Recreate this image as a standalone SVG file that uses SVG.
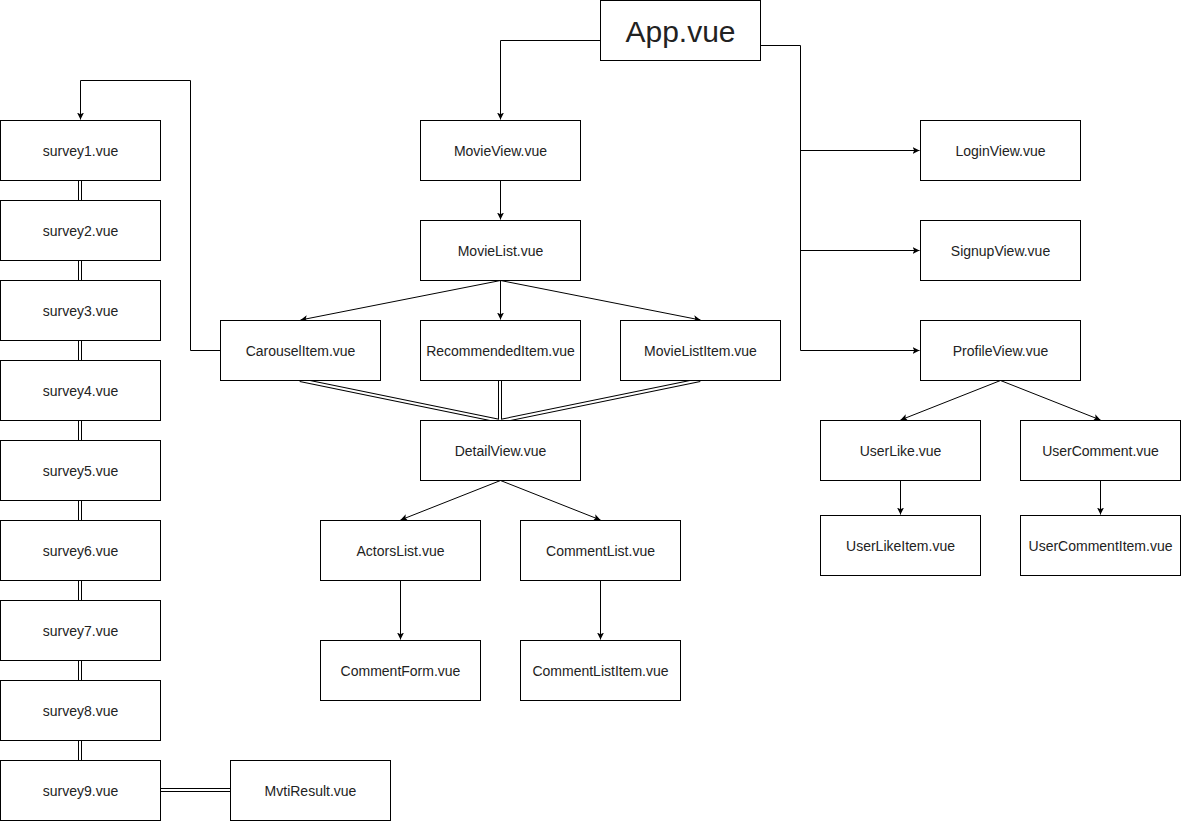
<svg xmlns="http://www.w3.org/2000/svg" width="1181" height="821" viewBox="0 0 1181 821">
  <style>
    .box rect { fill: #ffffff; stroke: #000000; stroke-width: 1; }
    .box text { font-family: "Liberation Sans", Arial, sans-serif; font-size: 14px; fill: #222222; text-anchor: middle; dominant-baseline: central; }
    .edge { fill: none; stroke: #000000; stroke-width: 1; }
    .dbl-outer { fill: none; stroke: #000000; stroke-width: 4; }
    .dbl-inner { fill: none; stroke: #ffffff; stroke-width: 2; }
  </style>
  <defs>
    <marker id="arrow" viewBox="0 0 10 10" refX="10" refY="5" markerWidth="7" markerHeight="7" markerUnits="userSpaceOnUse" orient="auto">
      <path d="M0,0 L10,5 L0,10 L2.5,5 Z" fill="#000000"/>
    </marker>
  </defs>
  <rect width="1181" height="821" fill="#ffffff"/>

  <g id="connectors">
    <!-- plain arrows -->
    <path class="edge" d="M600.5,40.5 H500.5 V119.5" marker-end="url(#arrow)"/>
    <path class="edge" d="M760.5,45.5 H800.5 V350.5 H919.5" marker-end="url(#arrow)"/>
    <path class="edge" d="M800.5,150.5 H919.5" marker-end="url(#arrow)"/>
    <path class="edge" d="M800.5,250.5 H919.5" marker-end="url(#arrow)"/>
    <path class="edge" d="M500.5,180.5 V219.5" marker-end="url(#arrow)"/>
    <path class="edge" d="M500.5,280.5 L300.5,320" marker-end="url(#arrow)"/>
    <path class="edge" d="M500.5,280.5 V319.5" marker-end="url(#arrow)"/>
    <path class="edge" d="M500.5,280.5 L700.5,320" marker-end="url(#arrow)"/>
    <path class="edge" d="M220.5,350.5 H190.5 V80.5 H80.5 V119.5" marker-end="url(#arrow)"/>
    <path class="edge" d="M500.5,480.5 L400.5,520" marker-end="url(#arrow)"/>
    <path class="edge" d="M500.5,480.5 L600.5,520" marker-end="url(#arrow)"/>
    <path class="edge" d="M400.5,580.5 V639.5" marker-end="url(#arrow)"/>
    <path class="edge" d="M600.5,580.5 V639.5" marker-end="url(#arrow)"/>
    <path class="edge" d="M1000.5,380.5 L900.5,420" marker-end="url(#arrow)"/>
    <path class="edge" d="M1000.5,380.5 L1100.5,420" marker-end="url(#arrow)"/>
    <path class="edge" d="M900.5,480.5 V514.5" marker-end="url(#arrow)"/>
    <path class="edge" d="M1100.5,480.5 V514.5" marker-end="url(#arrow)"/>

    <!-- double links -->
    <g>
      <path class="dbl-outer" d="M300,380 L500,421 M500,380 V421 M700,380 L500,421"/>
      <path class="dbl-outer" d="M80,180 V200 M80,260 V280 M80,340 V360 M80,420 V440 M80,500 V520 M80,580 V600 M80,660 V680 M80,740 V760 M160,790 H230"/>
      <path class="dbl-inner" d="M300,380 L500,421 M500,380 V421 M700,380 L500,421"/>
      <path class="dbl-inner" d="M80,180 V200 M80,260 V280 M80,340 V360 M80,420 V440 M80,500 V520 M80,580 V600 M80,660 V680 M80,740 V760 M160,790 H230"/>
    </g>
  </g>

  <g id="app" class="box"><rect x="600.5" y="0.5" width="160" height="60"/><text x="680.5" y="31" style="font-size:30px">App.vue</text></g>

  <g id="survey1" class="box"><rect x="0.5" y="120.5" width="160" height="60"/><text x="80.5" y="150.5">survey1.vue</text></g>
  <g id="survey2" class="box"><rect x="0.5" y="200.5" width="160" height="60"/><text x="80.5" y="230.5">survey2.vue</text></g>
  <g id="survey3" class="box"><rect x="0.5" y="280.5" width="160" height="60"/><text x="80.5" y="310.5">survey3.vue</text></g>
  <g id="survey4" class="box"><rect x="0.5" y="360.5" width="160" height="60"/><text x="80.5" y="390.5">survey4.vue</text></g>
  <g id="survey5" class="box"><rect x="0.5" y="440.5" width="160" height="60"/><text x="80.5" y="470.5">survey5.vue</text></g>
  <g id="survey6" class="box"><rect x="0.5" y="520.5" width="160" height="60"/><text x="80.5" y="550.5">survey6.vue</text></g>
  <g id="survey7" class="box"><rect x="0.5" y="600.5" width="160" height="60"/><text x="80.5" y="630.5">survey7.vue</text></g>
  <g id="survey8" class="box"><rect x="0.5" y="680.5" width="160" height="60"/><text x="80.5" y="710.5">survey8.vue</text></g>
  <g id="survey9" class="box"><rect x="0.5" y="760.5" width="160" height="60"/><text x="80.5" y="790.5">survey9.vue</text></g>
  <g id="mvti-result" class="box"><rect x="230.5" y="760.5" width="160" height="60"/><text x="310.5" y="790.5">MvtiResult.vue</text></g>

  <g id="movie-view" class="box"><rect x="420.5" y="120.5" width="160" height="60"/><text x="500.5" y="150.5">MovieView.vue</text></g>
  <g id="movie-list" class="box"><rect x="420.5" y="220.5" width="160" height="60"/><text x="500.5" y="250.5">MovieList.vue</text></g>
  <g id="carousel-item" class="box"><rect x="220.5" y="320.5" width="160" height="60"/><text x="300.5" y="350.5">CarouselItem.vue</text></g>
  <g id="recommended-item" class="box"><rect x="420.5" y="320.5" width="160" height="60"/><text x="500.5" y="350.5">RecommendedItem.vue</text></g>
  <g id="movie-list-item" class="box"><rect x="620.5" y="320.5" width="160" height="60"/><text x="700.5" y="350.5">MovieListItem.vue</text></g>
  <g id="detail-view" class="box"><rect x="420.5" y="420.5" width="160" height="60"/><text x="500.5" y="450.5">DetailView.vue</text></g>
  <g id="actors-list" class="box"><rect x="320.5" y="520.5" width="160" height="60"/><text x="400.5" y="550.5">ActorsList.vue</text></g>
  <g id="comment-list" class="box"><rect x="520.5" y="520.5" width="160" height="60"/><text x="600.5" y="550.5">CommentList.vue</text></g>
  <g id="comment-form" class="box"><rect x="320.5" y="640.5" width="160" height="60"/><text x="400.5" y="670.5">CommentForm.vue</text></g>
  <g id="comment-list-item" class="box"><rect x="520.5" y="640.5" width="160" height="60"/><text x="600.5" y="670.5">CommentListItem.vue</text></g>

  <g id="login-view" class="box"><rect x="920.5" y="120.5" width="160" height="60"/><text x="1000.5" y="150.5">LoginView.vue</text></g>
  <g id="signup-view" class="box"><rect x="920.5" y="220.5" width="160" height="60"/><text x="1000.5" y="250.5">SignupView.vue</text></g>
  <g id="profile-view" class="box"><rect x="920.5" y="320.5" width="160" height="60"/><text x="1000.5" y="350.5">ProfileView.vue</text></g>
  <g id="user-like" class="box"><rect x="820.5" y="420.5" width="160" height="60"/><text x="900.5" y="450.5">UserLike.vue</text></g>
  <g id="user-comment" class="box"><rect x="1020.5" y="420.5" width="160" height="60"/><text x="1100.5" y="450.5">UserComment.vue</text></g>
  <g id="user-like-item" class="box"><rect x="820.5" y="515.5" width="160" height="60"/><text x="900.5" y="545.5">UserLikeItem.vue</text></g>
  <g id="user-comment-item" class="box"><rect x="1020.5" y="515.5" width="160" height="60"/><text x="1100.5" y="545.5">UserCommentItem.vue</text></g>
</svg>
